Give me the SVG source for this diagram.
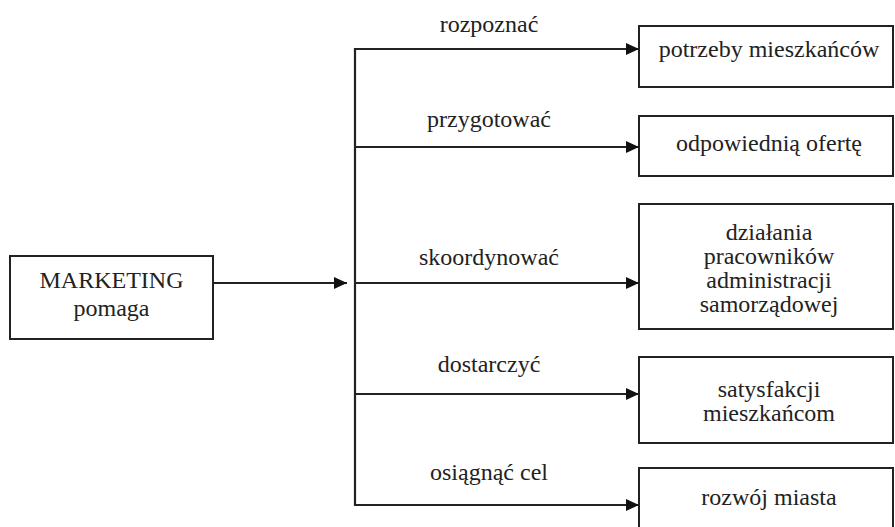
<svg xmlns="http://www.w3.org/2000/svg" width="895" height="527" viewBox="0 0 895 527">
<style>
.box{fill:#fff;stroke:#222;stroke-width:2}
.t{font-size:24px;fill:#222;text-anchor:middle}
.ln{stroke:#222;stroke-width:2.2;fill:none}
</style>
<defs>
<marker id="ah" viewBox="0 0 13 12" refX="13" refY="6" markerWidth="13" markerHeight="12" markerUnits="userSpaceOnUse" orient="auto">
<path d="M0,0 L13,6 L0,12 z" fill="#111"/>
</marker>
</defs>
<rect width="895" height="527" fill="#fff"/>
<g font-family="Liberation Serif, Times New Roman, serif">
<g id="connectors">
<line class="ln" x1="213" y1="283" x2="347" y2="283" marker-end="url(#ah)"/>
<line class="ln" x1="355" y1="48" x2="355" y2="506"/>
<line class="ln" x1="354" y1="49" x2="639" y2="49" marker-end="url(#ah)"/>
<line class="ln" x1="354" y1="147" x2="639" y2="147" marker-end="url(#ah)"/>
<line class="ln" x1="354" y1="283" x2="639" y2="283" marker-end="url(#ah)"/>
<line class="ln" x1="354" y1="394" x2="639" y2="394" marker-end="url(#ah)"/>
<line class="ln" x1="354" y1="505" x2="639" y2="505" marker-end="url(#ah)"/>
<text class="t" x="489" y="32">rozpoznać</text>
<text class="t" x="489" y="127">przygotować</text>
<text class="t" x="489" y="265">skoordynować</text>
<text class="t" x="489" y="372">dostarczyć</text>
<text class="t" x="489" y="480">osiągnąć cel</text>
</g>
<g id="marketing">
<rect class="box" x="10" y="256" width="203" height="83"/>
<text class="t" x="111.5" y="288">MARKETING</text>
<text class="t" x="111.5" y="316">pomaga</text>
</g>
<g id="potrzeby">
<rect class="box" x="639" y="26" width="254" height="61"/>
<text class="t" x="769" y="57">potrzeby mieszkańców</text>
</g>
<g id="oferta">
<rect class="box" x="639" y="116" width="254" height="60"/>
<text class="t" x="769" y="151">odpowiednią ofertę</text>
</g>
<g id="dzialania">
<rect class="box" x="639" y="204" width="254" height="125"/>
<text class="t" x="769" y="240">działania</text>
<text class="t" x="769" y="264">pracowników</text>
<text class="t" x="769" y="288">administracji</text>
<text class="t" x="769" y="312">samorządowej</text>
</g>
<g id="satysfakcja">
<rect class="box" x="639" y="357" width="254" height="86"/>
<text class="t" x="769" y="397">satysfakcji</text>
<text class="t" x="769" y="421">mieszkańcom</text>
</g>
<g id="rozwoj">
<rect class="box" x="639" y="468" width="254" height="70"/>
<text class="t" x="769" y="505">rozwój miasta</text>
</g>
</g>
</svg>
